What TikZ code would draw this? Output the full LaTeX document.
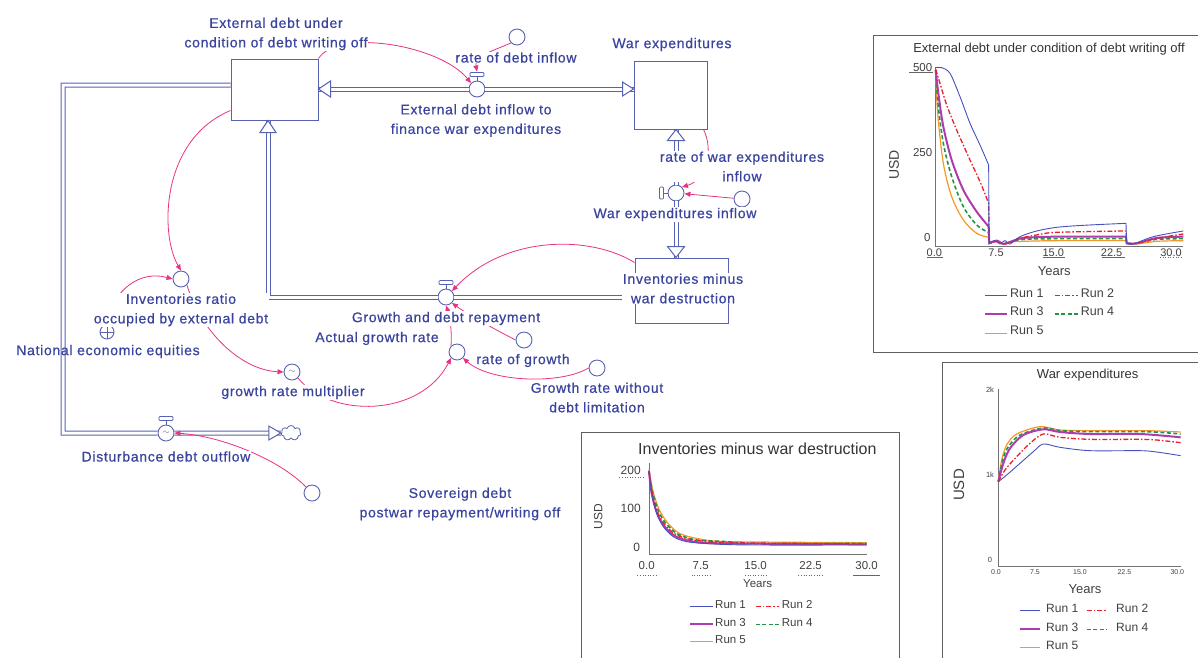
\documentclass[tikz,border=0pt]{standalone}
\usepackage{fontspec}
\setmainfont{Liberation Sans}
\newfontfamily\vfont[LetterSpace=5, FakeBold=0.6]{Liberation Sans}
\usetikzlibrary{arrows.meta, shapes.symbols, calc}

\definecolor{txtblue}{RGB}{58,68,158}
\definecolor{flowblue}{RGB}{88,98,178}
\definecolor{linkpink}{RGB}{232,50,130}
\definecolor{chartgray}{RGB}{95,95,95}
\definecolor{runblue}{RGB}{70,80,190}
\definecolor{runred}{RGB}{235,30,40}
\definecolor{runmag}{RGB}{175,60,175}
\definecolor{rungreen}{RGB}{30,150,70}
\definecolor{runorange}{RGB}{248,150,40}

\tikzset{
  stock/.style={draw=flowblue, line width=1pt, fill=white, inner sep=0pt},
  aux/.style={circle, draw=flowblue, line width=0.9pt, fill=white, minimum size=16pt, inner sep=0pt, text=flowblue},
  lbl/.style={text=txtblue, font=\vfont\fontsize{14}{19.5}\selectfont, align=center, inner sep=0.5pt, yshift=-1.5pt},
  lblw/.style={lbl, fill=white},
  pipe/.style={draw=flowblue, line width=1pt, double=white, double distance=3pt},
  pipehead/.style={draw=flowblue, line width=1pt, fill=white, line join=miter},
  handle/.style={draw=flowblue, line width=0.8pt, fill=white, rounded corners=1pt},
  link/.style={draw=linkpink, line width=0.8pt, -{Triangle[length=6pt,width=5pt]}},
  chartbox/.style={draw=chartgray, line width=0.9pt},
  caxis/.style={draw=black!55, line width=0.8pt},
  ctitle/.style={text=black!80, inner sep=0pt},
  ctick/.style={text=black!75, inner sep=0pt},
  run1/.style={runblue, line width=0.9pt},
  run2/.style={runred, line width=1.3pt, dash pattern=on 5pt off 2pt on 1.5pt off 2pt},
  run3/.style={runmag, line width=2pt},
  run4/.style={rungreen, line width=1.6pt, dash pattern=on 4pt off 2.5pt},
  run5/.style={runorange, line width=1.2pt}
}

\begin{document}
\begin{tikzpicture}[x=1pt, y=-1pt]
\useasboundingbox (0,0) rectangle (1198,657);

% stocks
\node[stock, minimum width=87pt, minimum height=61pt] (ext) at (274.5,89.5) {};
\node[stock, minimum width=73pt, minimum height=68pt] (war) at (670.5,95) {};
\node[stock, minimum width=93pt, minimum height=65pt] (inv) at (681.5,290.5) {};

% valves
\node[aux] (fin) at (477,89) {};
\node[aux] (wv) at (676,193) {};
\node[aux] (gv) at (446,297) {};
\node[aux] (dv) at (166,433) {\fontsize{9}{9}\selectfont$\sim$};

% auxiliaries
\node[aux] (rdi) at (517,37) {};
\node[aux] (rwe) at (742,199) {};
\node[aux] (act) at (457,352) {};
\node[aux] (rgr) at (524,340) {};
\node[aux] (gwo) at (597,368) {};
\node[aux] (mult) at (292,372) {\fontsize{9}{9}\selectfont$\sim$};
\node[aux] (ratio) at (181,279) {};
\node[aux, minimum size=14pt] (neq) at (107,332) {};
\node[aux] (sov) at (312,493) {};
\node[cloud, cloud puffs=7, draw=flowblue, line width=0.8pt, fill=white, minimum width=20pt, minimum height=15pt, inner sep=0pt] (sink) at (291,433) {};
\draw[flowblue, line width=0.8pt] (neq.north) -- (neq.south) (neq.west) -- (neq.east);

% pipes
\coordinate (lc1) at (63,85);
\coordinate (lc2) at (63,433);
\coordinate (gc) at (268,297);
\draw[pipe] (ext.east |- fin) -- (fin) -- (war.west |- fin);
\draw[pipe] (war.south -| wv) -- (wv) -- (inv.north -| wv);
\draw[pipe] (inv.west |- gv) -- (gv) -- (gc) -- (gc |- ext.south);
\draw[pipe] (ext.west |- lc1) -- (lc1) -- (lc2) -- (dv) -- (sink);

\draw[pipehead] (ext.east |- fin) -- ++(12,-8) -- ++(0,16) -- cycle;
\draw[pipehead] (war.west |- fin) -- ++(-11,-7) -- ++(0,14) -- cycle;
\draw[pipehead] (war.south -| wv) -- ++(-8.5,11) -- ++(17,0) -- cycle;
\draw[pipehead] (inv.north -| wv) -- ++(-8.5,-11) -- ++(17,0) -- cycle;
\draw[pipehead] (gc |- ext.south) -- ++(-8,12) -- ++(16,0) -- cycle;
\draw[pipehead] (sink.west) -- ++(-12,-7) -- ++(0,14) -- cycle;

% valve handles
\draw[flowblue, line width=0.8pt] (fin.north) -- ([yshift=4pt]fin.north);
\draw[handle] ([shift={(-7pt,4pt)}]fin.north) rectangle ([shift={(7pt,8pt)}]fin.north);
\draw[flowblue, line width=0.8pt] (gv.north) -- ([yshift=4pt]gv.north);
\draw[handle] ([shift={(-7pt,4pt)}]gv.north) rectangle ([shift={(7pt,8pt)}]gv.north);
\draw[flowblue, line width=0.8pt] (dv.north) -- ([yshift=4pt]dv.north);
\draw[handle] ([shift={(-7pt,4pt)}]dv.north) rectangle ([shift={(7pt,8pt)}]dv.north);
\draw[flowblue, line width=0.8pt] (wv.west) -- ([xshift=-4pt]wv.west);
\draw[handle] ([shift={(-4pt,-6pt)}]wv.west) rectangle ([shift={(-8pt,6pt)}]wv.west);
\coordinate (finh) at ([yshift=9pt]fin.north);

% links
\draw[link] (ext.north east) .. controls (338,28) and (440,45) .. (fin.north west);
\draw[link] (rdi.south west) .. controls (495,50) and (474,56) .. (finh);
\draw[link] ([xshift=-4pt]war.south east) .. controls (714,150) and (706,180) .. (wv.north east);
\draw[link] (rwe) -- (wv);
\draw[link] ([yshift=-5pt]inv.north west) .. controls (590,235) and (505,235) .. (gv.north east);
\draw[link] (act.north west) .. controls (452,330) and (450,318) .. (gv.south);
\draw[link] (rgr.west) .. controls (500,332) and (470,316) .. (gv.south east);
\draw[link] (gwo.west) .. controls (560,385) and (490,382) .. (act.south east);
\draw[link] (mult.south east) .. controls (330,418) and (420,418) .. (act.south west);
\draw[link] (ratio.south east) .. controls (200,330) and (240,370) .. (mult.west);
\draw[link] ([yshift=10pt]ext.south west) .. controls (160,140) and (160,235) .. (ratio.north);
\draw[link] (neq.north) .. controls (112,290) and (140,270) .. (ratio.west);
\draw[link] (sov.north west) .. controls (280,460) and (222,436) .. (dv.east);

% labels
\node[lblw] (extlbl) at (276,32.5) {External debt under\\condition of debt writing off};
\node[lbl] (warlbl) at (672,43) {War expenditures};
\node[lblw] (invlbl) at (683,287) {Inventories minus\\war destruction};
\node[lbl] (finlbl) at (476,119) {External debt inflow to\\finance war expenditures};
\node[lblw] (rdilbl) at (516,56) {rate of debt inflow};
\node[lblw] (rwelbl) at (742,165) {rate of war expenditures\\inflow};
\node[lblw] (wvlbl) at (675,213) {War expenditures inflow};
\node[lblw] (gvlbl) at (446,317) {Growth and debt repayment};
\node[lbl] (actlbl) at (377,337) {Actual growth rate};
\node[lbl] (rgrlbl) at (523,359) {rate of growth};
\node[lbl] (gwolbl) at (597,396) {Growth rate without\\debt limitation};
\node[lblw] (multlbl) at (293,391) {growth rate multiplier};
\node[lblw] (ratiolbl) at (181,308.5) {Inventories ratio\\occupied by external debt};
\node[lbl] (neqlbl) at (108,350) {National economic equities};
\node[lblw] (dvlbl) at (166,455) {Disturbance debt outflow};
\node[lbl] (sovlbl) at (460,502.5) {Sovereign debt\\postwar repayment/writing off};

% chart: external debt
\begin{scope}[shift={(870,30)}, x=0.3333pt, y=-0.3333pt]
\draw[chartbox] (9,15) rectangle (1010,966);
\node[ctitle, font=\fontsize{13}{15}\selectfont] (c1title) at (537,58) {External debt under condition of debt writing off};
\draw[caxis] (197,110) -- (197,648) -- (940,648);
\node[ctick, font=\fontsize{11.5}{13}\selectfont] (c1y500) at (158,112) {500};
\node[ctick, font=\fontsize{11.5}{13}\selectfont] (c1y250) at (158,368) {250};
\node[ctick, font=\fontsize{11.5}{13}\selectfont] (c1y0) at (172,622) {0};
\node[ctick, font=\fontsize{14}{16}\selectfont, rotate=90] (c1usd) at (72,405) {USD};
\node[ctick, font=\fontsize{11}{13}\selectfont] (c1x0) at (193,668) {0.0};
\node[ctick, font=\fontsize{11}{13}\selectfont] (c1x1) at (378,668) {7.5};
\node[ctick, font=\fontsize{11}{13}\selectfont] (c1x2) at (550,668) {15.0};
\node[ctick, font=\fontsize{11}{13}\selectfont] (c1x3) at (725,668) {22.5};
\node[ctick, font=\fontsize{11}{13}\selectfont] (c1x4) at (903,668) {30.0};
\draw[black!60, line width=0.6pt] (118,128) -- (190,128) (170,683) -- (218,683) (518,683) -- (585,683) (695,683) -- (765,683);
\draw[black!60, line width=0.6pt, dotted] (870,683) -- (940,683);
\node[ctick, font=\fontsize{13}{15}\selectfont] (c1years) at (553,722) {Years};
\draw[run5] plot[smooth] coordinates {(197,125) (203,250) (220,400) (245,500) (280,570) (320,610) (356,622)}
  -- plot[smooth] coordinates {(358,640) (380,634) (400,642) (420,636) (460,634) (560,632) (768,632)}
  -- plot[smooth] coordinates {(770,640) (800,642) (860,634) (940,632)};
\draw[run4] plot[smooth] coordinates {(197,122) (205,230) (220,340) (245,440) (280,530) (320,585) (356,608)}
  -- plot[smooth] coordinates {(358,640) (380,632) (400,642) (420,636) (460,628) (560,626) (768,626)}
  -- plot[smooth] coordinates {(770,640) (800,640) (860,628) (940,626)};
\draw[run3] plot[smooth] coordinates {(197,120) (205,190) (220,290) (245,390) (280,480) (320,545) (356,590)}
  -- plot[smooth] coordinates {(358,640) (380,632) (400,642) (420,636) (460,624) (560,620) (768,620)}
  -- plot[smooth] coordinates {(770,640) (800,640) (860,624) (940,620)};
\draw[run2] plot[smooth] coordinates {(197,118) (210,160) (230,225) (260,300) (300,390) (330,455) (356,520)}
  -- plot[smooth] coordinates {(358,640) (380,635) (400,642) (420,638) (450,625) (500,615) (560,607) (768,603)}
  -- plot[smooth] coordinates {(770,640) (800,640) (860,625) (940,612)};
\draw[run1] plot[smooth] coordinates {(197,113) (215,113) (240,130) (270,200) (300,280) (330,345) (356,405)}
  -- plot[smooth] coordinates {(357,640) (375,632) (390,642) (405,632) (420,642) (450,620) (500,603) (560,592) (640,586) (768,580)}
  -- plot[smooth] coordinates {(770,640) (790,642) (850,620) (940,603)};
\draw[run1] (345,797) -- (410,797);
\node[ctick, font=\fontsize{12.5}{14}\selectfont, anchor=west] (c1r1) at (420,790) {Run 1};
\draw[run2] (555,797) -- (625,797);
\node[ctick, font=\fontsize{12.5}{14}\selectfont, anchor=west] (c1r2) at (632,790) {Run 2};
\draw[run3] (345,852) -- (410,852);
\node[ctick, font=\fontsize{12.5}{14}\selectfont, anchor=west] (c1r3) at (420,845) {Run 3};
\draw[run4] (555,852) -- (625,852);
\node[ctick, font=\fontsize{12.5}{14}\selectfont, anchor=west] (c1r4) at (632,845) {Run 4};
\draw[run5] (345,910) -- (410,910);
\node[ctick, font=\fontsize{12.5}{14}\selectfont, anchor=west] (c1r5) at (420,902) {Run 5};
\end{scope}

% chart: inventories
\begin{scope}[shift={(580,425)}, x=0.3333pt, y=-0.3333pt]
\draw[chartbox] (5,22) rectangle (958,710);
\node[ctitle, font=\fontsize{16}{18}\selectfont] (c2title) at (532,72) {Inventories minus war destruction};
\draw[caxis] (207,115) -- (207,388) -- (860,388);
\node[ctick, font=\fontsize{12}{14}\selectfont] (c2y200) at (152,136) {200};
\node[ctick, font=\fontsize{12}{14}\selectfont] (c2y100) at (152,250) {100};
\node[ctick, font=\fontsize{12}{14}\selectfont] (c2y0) at (170,367) {0};
\node[ctick, font=\fontsize{12}{14}\selectfont, rotate=90] (c2usd) at (55,275) {USD};
\node[ctick, font=\fontsize{11.5}{13}\selectfont] (c2x0) at (200,423) {0.0};
\node[ctick, font=\fontsize{11.5}{13}\selectfont] (c2x1) at (362,423) {7.5};
\node[ctick, font=\fontsize{11.5}{13}\selectfont] (c2x2) at (527,423) {15.0};
\node[ctick, font=\fontsize{11.5}{13}\selectfont] (c2x3) at (692,423) {22.5};
\node[ctick, font=\fontsize{11.5}{13}\selectfont] (c2x4) at (860,423) {30.0};
\draw[black!60, line width=0.6pt, dotted] (118,158) -- (190,158) (172,452) -- (232,452) (335,452) -- (390,452) (495,452) -- (565,452) (655,452) -- (730,452);
\draw[black!60, line width=0.6pt] (820,452) -- (900,452);
\node[ctick, font=\fontsize{11.5}{13}\selectfont] (c2years) at (533,477) {Years};
\draw[run5] plot[smooth] coordinates {(207,133) (218,195) (238,255) (265,296) (300,326) (360,342) (450,350) (860,353)};
\draw[run4] plot[smooth] coordinates {(207,137) (217,198) (235,258) (260,298) (295,328) (350,345) (440,350) (520,356) (860,355)};
\draw[run3] plot[smooth] coordinates {(207,140) (215,205) (230,262) (252,303) (285,333) (330,348) (420,355) (860,358)};
\draw[run2] plot[smooth] coordinates {(207,138) (216,200) (232,260) (255,300) (290,330) (340,345) (420,352) (520,354) (860,357)};
\draw[run1] plot[smooth] coordinates {(207,140) (215,205) (230,265) (250,305) (280,335) (320,350) (400,357) (520,360) (860,360)};
\draw[run1] (330,545) -- (400,545);
\node[ctick, font=\fontsize{11.5}{13}\selectfont, anchor=west] (c2r1) at (405,540) {Run 1};
\draw[run2] (528,545) -- (598,545);
\node[ctick, font=\fontsize{11.5}{13}\selectfont, anchor=west] (c2r2) at (605,540) {Run 2};
\draw[run3] (330,598) -- (400,598);
\node[ctick, font=\fontsize{11.5}{13}\selectfont, anchor=west] (c2r3) at (405,593) {Run 3};
\draw[run4] (528,598) -- (598,598);
\node[ctick, font=\fontsize{11.5}{13}\selectfont, anchor=west] (c2r4) at (605,593) {Run 4};
\draw[run5] (330,650) -- (400,650);
\node[ctick, font=\fontsize{11.5}{13}\selectfont, anchor=west] (c2r5) at (405,645) {Run 5};
\end{scope}

% chart: war expenditures
\begin{scope}[shift={(940,360)}, x=0.3333pt, y=-0.3333pt]
\draw[chartbox] (6,6) rectangle (800,900);
\node[ctitle, font=\fontsize{13}{15}\selectfont] (c3title) at (443,45) {War expenditures};
\draw[caxis] (175,88) -- (175,618) -- (722,618);
\node[ctick, font=\fontsize{7.5}{9}\selectfont] (c3y2) at (150,90) {2k};
\node[ctick, font=\fontsize{7.5}{9}\selectfont] (c3y1) at (150,345) {1k};
\node[ctick, font=\fontsize{7.5}{9}\selectfont] (c3y0) at (150,600) {0};
\node[ctick, font=\fontsize{15}{17}\selectfont, rotate=90] (c3usd) at (57,375) {USD};
\node[ctick, font=\fontsize{7}{9}\selectfont] (c3x0) at (168,637) {0.0};
\node[ctick, font=\fontsize{7}{9}\selectfont] (c3x1) at (285,637) {7.5};
\node[ctick, font=\fontsize{7}{9}\selectfont] (c3x2) at (420,637) {15.0};
\node[ctick, font=\fontsize{7}{9}\selectfont] (c3x3) at (553,637) {22.5};
\node[ctick, font=\fontsize{7}{9}\selectfont] (c3x4) at (712,637) {30.0};
\node[ctick, font=\fontsize{13}{15}\selectfont] (c3years) at (435,688) {Years};
\draw[run5] plot[smooth] coordinates {(175,365) (185,300) (200,255) (230,222) (300,200) (360,210) (450,212) (620,212) (722,216)};
\draw[run4] plot[smooth] coordinates {(175,365) (188,300) (205,260) (240,225) (310,204) (360,212) (450,215) (620,215) (722,222)};
\draw[run3] plot[smooth] coordinates {(175,365) (190,310) (210,265) (250,225) (310,208) (360,216) (450,222) (600,222) (722,232)};
\draw[run2] plot[smooth] coordinates {(175,365) (195,330) (230,290) (270,250) (310,222) (360,232) (450,238) (600,238) (650,240) (722,248)};
\draw[run1] plot[smooth] coordinates {(175,365) (200,345) (240,310) (280,275) (310,252) (360,262) (450,272) (600,272) (650,276) (722,287)};
\draw[run1] (240,752) -- (300,752);
\node[ctick, font=\fontsize{12}{14}\selectfont, anchor=west] (c3r1) at (318,745) {Run 1};
\draw[run2] (440,752) -- (500,752);
\node[ctick, font=\fontsize{12}{14}\selectfont, anchor=west] (c3r2) at (528,745) {Run 2};
\draw[run3] (240,808) -- (300,808);
\node[ctick, font=\fontsize{12}{14}\selectfont, anchor=west] (c3r3) at (318,802) {Run 3};
\draw[run4] (440,808) -- (500,808);
\node[ctick, font=\fontsize{12}{14}\selectfont, anchor=west] (c3r4) at (528,802) {Run 4};
\draw[run5] (240,862) -- (300,862);
\node[ctick, font=\fontsize{12}{14}\selectfont, anchor=west] (c3r5) at (318,857) {Run 5};
\end{scope}
\end{tikzpicture}
\end{document}
